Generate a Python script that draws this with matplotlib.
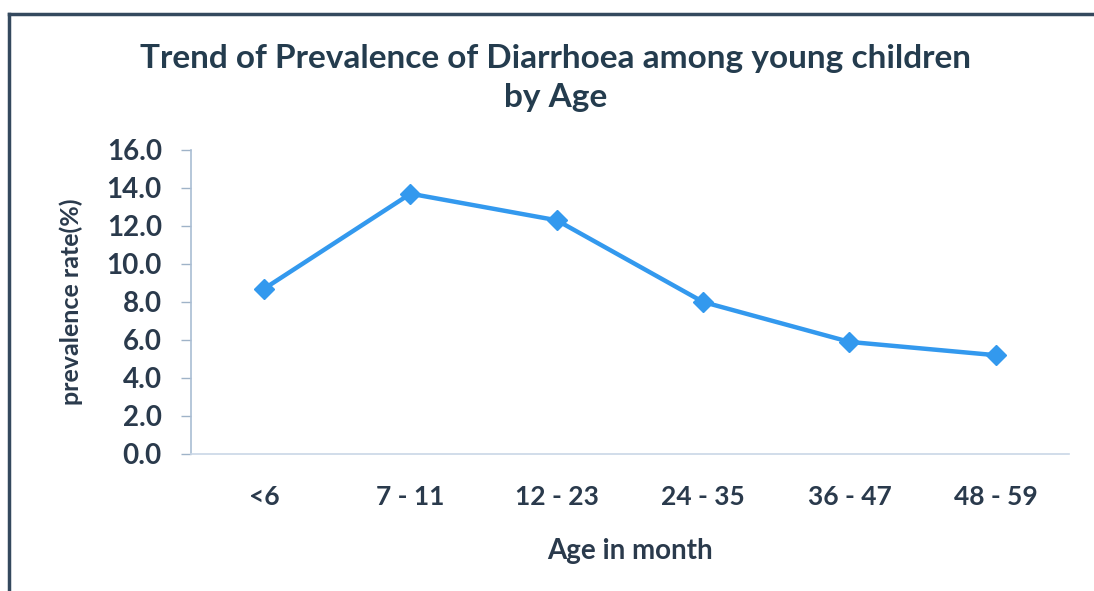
import matplotlib
matplotlib.use("Agg")
import matplotlib.pyplot as plt
from matplotlib.lines import Line2D
from matplotlib.ticker import FormatStrFormatter

plt.rcParams['font.family'] = ['Lato', 'DejaVu Sans']

# Age groups and diarrhoea prevalence (%)
age_groups = ["<6", "7 - 11", "12 - 23", "24 - 35", "36 - 47", "48 - 59"]
prevalence = [8.7, 13.7, 12.3, 8.0, 5.9, 5.2]
y_ticks = [0, 2, 4, 6, 8, 10, 12, 14, 16]

W, H = 1094, 591
fig = plt.figure(figsize=(W / 100, H / 100), dpi=100)
fig.patch.set_facecolor("white")

ax = fig.add_axes([191 / W, 1 - 454 / H, (1069 - 191) / W, (454 - 150) / H])

x = list(range(len(age_groups)))
ax.plot(x, prevalence, color="#3399ee", linewidth=3.2, marker="D",
        markersize=10, markerfacecolor="#3399ee", markeredgecolor="#3399ee",
        solid_joinstyle="round", zorder=3)

ax.set_xlim(-0.5, len(age_groups) - 0.5)
ax.set_ylim(0, 16)
ax.set_yticks(y_ticks)
ax.yaxis.set_major_formatter(FormatStrFormatter("%.1f"))
ax.set_xticks(x)
ax.set_xticklabels(age_groups)

text_col = "#2a3a4c"
for lbl in ax.get_yticklabels():
    lbl.set_fontsize(20)
    lbl.set_fontweight("bold")
    lbl.set_color(text_col)
for lbl in ax.get_xticklabels():
    lbl.set_fontsize(19)
    lbl.set_fontweight("bold")
    lbl.set_color(text_col)

ax.tick_params(axis="y", direction="out", length=7, width=1, color="#9fb3c8", pad=14)
ax.tick_params(axis="x", length=0, pad=22)

for side in ("top", "right"):
    ax.spines[side].set_visible(False)
ax.spines["left"].set_color("#a9bdd3")
ax.spines["bottom"].set_color("#c9d7e6")
ax.spines["left"].set_linewidth(1.2)
ax.spines["bottom"].set_linewidth(1.2)

ax.set_ylabel("prevalence rate(%)", fontsize=18, fontweight="bold", color=text_col,
              labelpad=17)
ax.set_xlabel("Age in month", fontsize=20, fontweight="bold", color=text_col,
              labelpad=21)

fig.text(556 / W, 1 - 78 / H, "Trend of Prevalence of Diarrhoea among young children\nby Age",
         ha="center", va="center", fontsize=24, fontweight="bold", color="#243c4e",
         linespacing=1.45)

# Chart frame (top and left edges)
fig.add_artist(Line2D([9 / W, 1.0], [1 - 14 / H, 1 - 14 / H], transform=fig.transFigure,
                      color="#34495e", linewidth=2.5))
fig.add_artist(Line2D([9 / W, 9 / W], [1 - 14 / H, 0.0], transform=fig.transFigure,
                      color="#34495e", linewidth=2.5))

fig.savefig("out.png", dpi=100, facecolor="white")
